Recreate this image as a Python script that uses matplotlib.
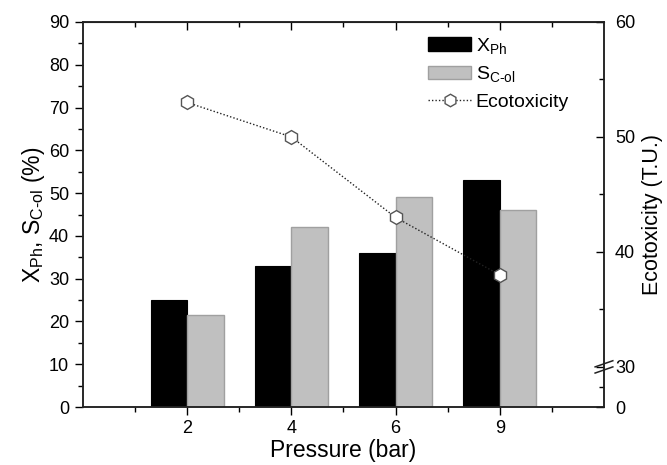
import numpy as np
import matplotlib
matplotlib.use("Agg")
import matplotlib.pyplot as plt
from matplotlib.patches import Patch
from matplotlib.lines import Line2D

plt.rcParams['font.family'] = ['Liberation Sans', 'DejaVu Sans']
plt.rcParams['mathtext.default'] = 'regular'

# ===== DATA =====
pressures = ['2', '4', '6', '9']
x_ph = [25, 33, 36, 53]
s_col = [21.5, 42, 49, 46]
ecotox = [53, 50, 43, 38]

# ===== BROKEN RIGHT SCALE (0-30 squeezed) =====
K0 = 3.49 / 30.0


def fwd(v):
    v = np.asarray(v, dtype=float)
    return np.where(v < 30, v * K0, 30 * K0 + (v - 30))


def inv(u):
    u = np.asarray(u, dtype=float)
    return np.where(u < 30 * K0, u / K0, u - 30 * K0 + 30)


fig = plt.figure(figsize=(6.67, 4.65), dpi=100)
ax = fig.add_axes([0.1244, 0.1247, 0.7811, 0.828])

pos = np.arange(1, len(pressures) + 1)
w = 0.35
ax.bar(pos - w / 2, x_ph, w, color='black', edgecolor='black', lw=0.8, zorder=2)
ax.bar(pos + w / 2, s_col, w, color='#c0c0c0', edgecolor='#a0a0a0', lw=1.0, zorder=2)

ax.set_xlim(0, 5)
ax.set_ylim(0, 90)
ax.set_xticks(pos)
ax.set_xticklabels(pressures)
ax.set_xticks(np.arange(0.5, 5, 1.0), minor=True)
ax.set_yticks(np.arange(0, 91, 10))
ax.set_yticks(np.arange(5, 90, 10), minor=True)
ax.tick_params(axis='both', which='major', direction='out', length=6, width=1,
               labelsize=13, pad=3)
ax.tick_params(axis='both', which='minor', direction='out', length=3.5, width=1)
ax.tick_params(axis='y', pad=4)
ax.set_xlabel('Pressure (bar)', fontsize=16.5, labelpad=2)
ax.set_ylabel('X$_{Ph}$, S$_{C\u2010ol}$ (%)', fontsize=16.5, labelpad=1)

top = ax.secondary_xaxis('top')
top.set_xticks(pos)
top.set_xticks(np.arange(0.5, 5, 1.0), minor=True)
top.tick_params(which='major', direction='in', length=6, width=1, labeltop=False)
top.tick_params(which='minor', direction='in', length=3.5, width=1)

for sp in ax.spines.values():
    sp.set_linewidth(1.1)
    sp.set_color('#222222')

# ===== ECOTOXICITY (right axis) =====
ax2 = ax.twinx()
ax2.set_yscale('function', functions=(fwd, inv))
ax2.set_ylim(0, 60)
ax2.plot(pos, ecotox, linestyle=(0, (1, 1.5)), color='#222222', lw=1.0,
         marker='h', markersize=10, markerfacecolor='white',
         markeredgecolor='#555555', markeredgewidth=1.0, zorder=3)
ax2.set_yticks([0, 30, 40, 50, 60])
ax2.set_yticks([15, 35, 45, 55], minor=True)
ax2.set_yticklabels(['0', '30', '40', '50', '60'])
ax2.tick_params(axis='y', which='major', direction='in', length=6, width=1,
                labelsize=13, pad=8)
ax2.tick_params(axis='y', which='minor', direction='in', length=3.5, width=1)
ax2.set_ylabel('Ecotoxicity (T.U.)', fontsize=15.5, labelpad=5)
for sp in ax2.spines.values():
    sp.set_linewidth(1.1)
    sp.set_color('#222222')

# axis break marks on the right spine
ybr = ax2.transData.transform((5, 30))[1]
ybr = ax2.transAxes.inverted().transform((0, ybr))[1]
for dy in (-0.008, 0.008):
    ax2.plot([0.983, 1.017], [ybr + dy - 0.008, ybr + dy + 0.008],
             transform=ax2.transAxes, color='#222222', lw=1.1, clip_on=False)

# ===== LEGEND =====
handles = [Patch(facecolor='black', edgecolor='black'),
           Patch(facecolor='#c0c0c0', edgecolor='#a0a0a0'),
           Line2D([], [], linestyle=(0, (1, 1.5)), color='#222222', lw=1.0,
                  marker='h', markersize=9, markerfacecolor='white',
                  markeredgecolor='#555555')]
labels = ['X$_{Ph}$', 'S$_{C\u2010ol}$', 'Ecotoxicity']
ax2.legend(handles, labels, loc='upper left', bbox_to_anchor=(0.655, 0.975),
           frameon=False, fontsize=14, handlelength=2.2, handletextpad=0.25,
           labelspacing=0.45, borderaxespad=0, borderpad=0.2)

fig.savefig('out.png', dpi=100)
